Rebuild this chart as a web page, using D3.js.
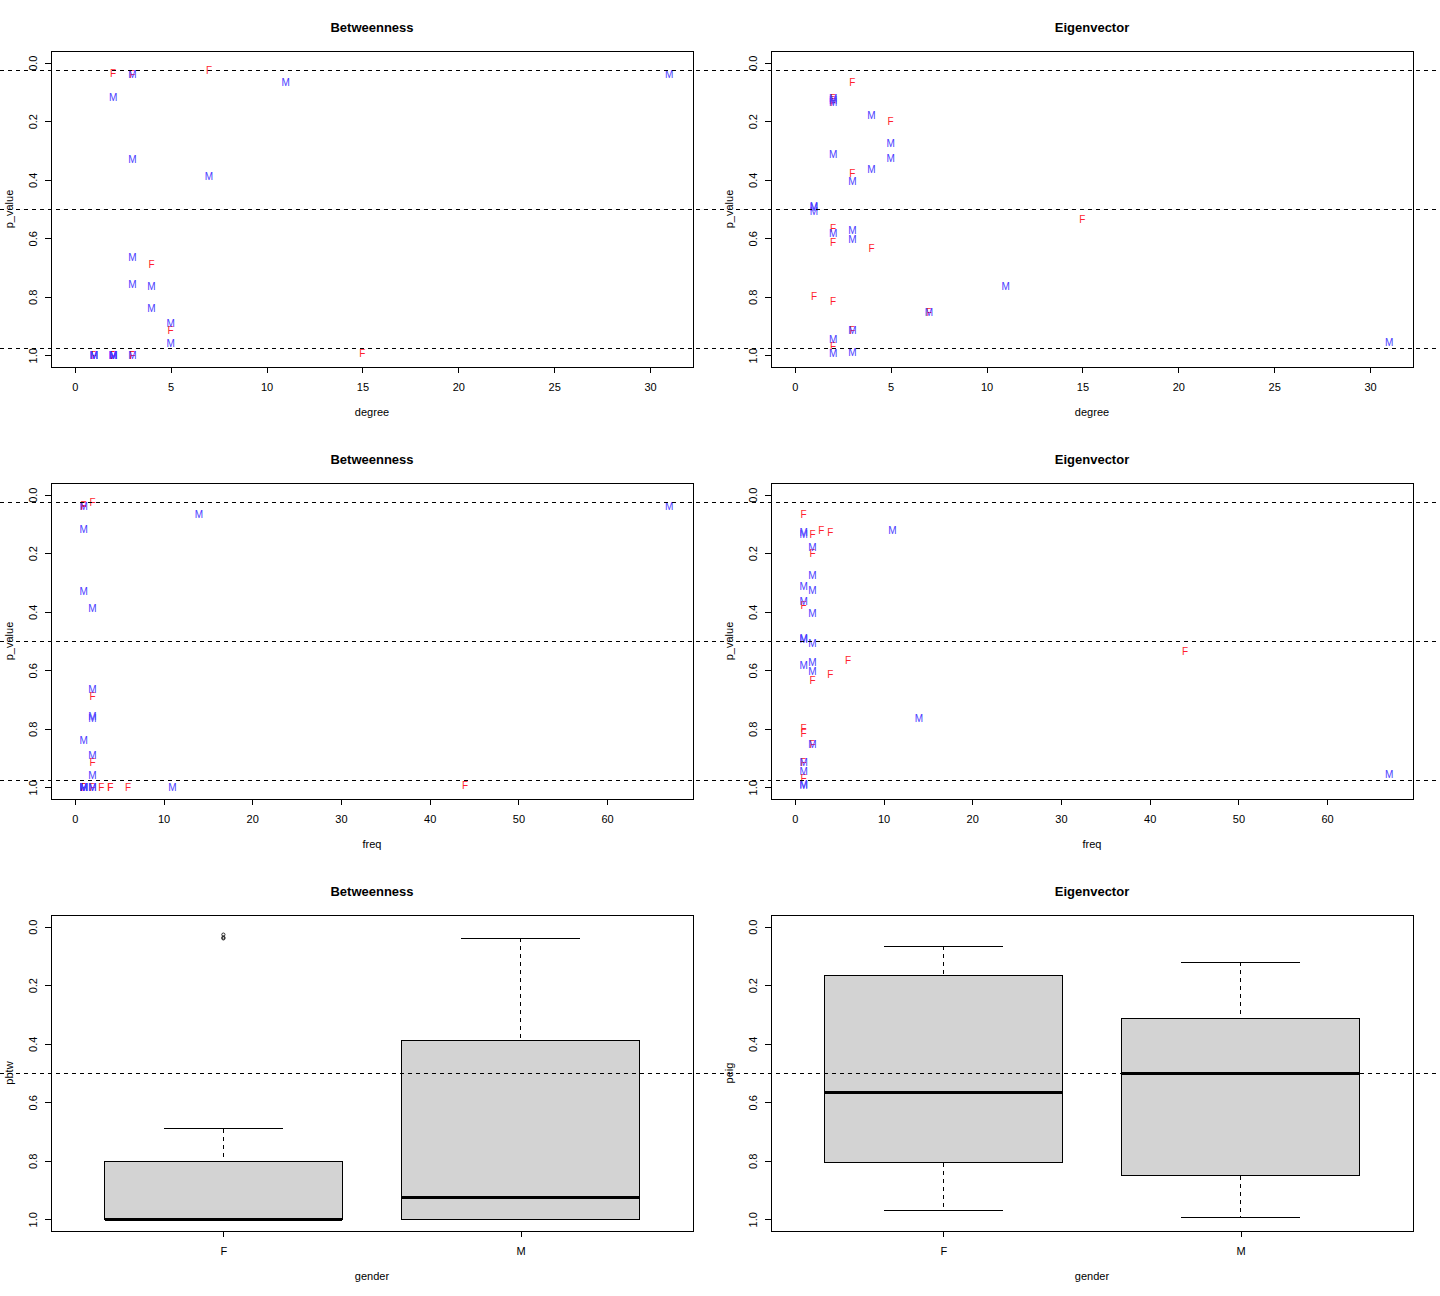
<!DOCTYPE html>
<html>
<head>
<meta charset="utf-8">
<script src="https://cdn.jsdelivr.net/npm/d3@7"></script>
<style>
  html, body { margin: 0; padding: 0; background: #fff; }
  svg { display: block; font-family: "Liberation Sans", Arial, sans-serif; }
  line, rect { shape-rendering: crispEdges; }
</style>
</head>
<body>
<svg id="chart" width="1440" height="1296"></svg>
<script>
// ---- data: one entry per node ----
const gender = ["F","F","F","F","F","F","F","F","F","F","F","F","F","F","F",
                "M","M","M","M","M","M","M","M","M","M","M","M","M","M","M","M","M","M","M","M","M","M"];
const degree = [3,2,7,4,5,15,3,3,2,2,2,2,2,2,1,
                3,11,2,3,7,3,4,3,4,5,5,31,2,2,2,2,1,1,1,3,2,2];
const freq   = [1,1,2,2,2,44,1,1,1,2,3,4,6,4,1,
                1,14,1,1,2,2,2,2,1,2,2,67,1,11,1,1,1,2,1,2,1,1];
const pBtw   = [0.04,0.037,0.027,0.69,0.915,0.993,1,1,1,1,1,1,1,1,1,
                0.04,0.068,0.12,0.33,0.39,0.665,0.765,0.757,0.84,0.89,0.96,0.04,1,1,1,1,1,1,1,1,1,1];
const pEig   = [0.067,0.817,0.852,0.636,0.2,0.534,0.377,0.914,0.969,0.134,0.122,0.13,0.565,0.613,0.797,
                0.989,0.765,0.945,0.914,0.852,0.405,0.18,0.572,0.364,0.276,0.327,0.956,0.134,0.122,0.13,0.314,0.495,0.507,0.49,0.604,0.585,0.994];
const genders = ["F","M"];
const yTicks = [0, 0.2, 0.4, 0.6, 0.8, 1.0];
const refLines = [0.025, 0.5, 0.975];
const degreeTicks = [0, 5, 10, 15, 20, 25, 30];
const freqTicks = [0, 10, 20, 30, 40, 50, 60];
const letterColor = { F: "#ff1f2f", M: "#4a3cff" };

const nodes = gender.map((g, i) => ({ g, deg: degree[i], freq: freq[i], btw: pBtw[i], eig: pEig[i] }));

const svg = d3.select("#chart");
const FIG_W = 720, FIG_H = 432;
const M = { left: 51, right: 27, top: 51, bottom: 65 };

function panel(row, col) {
  const ox = col * FIG_W, oy = row * FIG_H;
  const g = svg.append("g").attr("transform", `translate(${ox},${oy})`);
  return { g, x0: M.left, x1: FIG_W - M.right, y0: M.top, y1: FIG_H - M.bottom };
}

function yScale(p) {
  // R style: range 0..1 extended by 4%, reversed (0 at top)
  return d3.scaleLinear().domain([-0.04, 1.04]).range([p.y0, p.y1]);
}

function drawFrame(p, title, xlab, ylab) {
  p.g.append("rect").attr("x", p.x0 + 0.5).attr("y", p.y0 + 0.5)
    .attr("width", p.x1 - p.x0).attr("height", p.y1 - p.y0)
    .attr("fill", "none").attr("stroke", "#000").attr("stroke-width", 1);
  p.g.append("text").attr("x", (p.x0 + p.x1) / 2).attr("y", 32)
    .attr("text-anchor", "middle").attr("font-weight", "bold").attr("font-size", 13).text(title);
  p.g.append("text").attr("x", (p.x0 + p.x1) / 2).attr("y", 416)
    .attr("text-anchor", "middle").attr("font-size", 11).text(xlab);
  p.g.append("text").attr("transform", `translate(13,${(p.y0 + p.y1) / 2}) rotate(-90)`)
    .attr("text-anchor", "middle").attr("font-size", 11).text(ylab);
}

function drawYAxis(p, y) {
  const ax = p.g.append("g").attr("transform", `translate(${p.x0},0)`)
    .call(d3.axisLeft(y).tickValues(yTicks).tickSize(6).tickFormat(d3.format(".1f")));
  ax.select(".domain").remove();
  ax.selectAll("line").attr("stroke", "#000");
  ax.selectAll("text").attr("x", null).attr("dy", null)
    .attr("transform", "translate(-14,0) rotate(-90)")
    .attr("text-anchor", "middle").attr("font-size", 11).attr("fill", "#000")
    .attr("font-family", "Liberation Sans, Arial, sans-serif");
}

function drawXAxis(p, x, ticks, fmt) {
  const ax = p.g.append("g").attr("transform", `translate(0,${p.y1})`)
    .call(d3.axisBottom(x).tickValues(ticks).tickSize(6).tickPadding(10).tickFormat(fmt || d3.format("d")));
  ax.select(".domain").remove();
  ax.selectAll("line").attr("stroke", "#000");
  ax.selectAll("text").attr("font-size", 11).attr("fill", "#000")
    .attr("font-family", "Liberation Sans, Arial, sans-serif");
}

function drawRefLines(p, y, vals) {
  p.g.selectAll("line.ref").data(vals).join("line").attr("class", "ref")
    .attr("x1", 0).attr("x2", FIG_W)
    .attr("y1", d => Math.round(y(d)) + 0.5).attr("y2", d => Math.round(y(d)) + 0.5)
    .attr("stroke", "#000").attr("stroke-width", 1).attr("stroke-dasharray", "4,4");
}

function scatter(row, col, title, xkey, xmax, xticks, xlab, pkey) {
  const p = panel(row, col);
  const x = d3.scaleLinear().domain([0 - 0.04 * xmax, xmax * 1.04]).range([p.x0, p.x1]);
  const y = yScale(p);
  drawFrame(p, title, xlab, "p_value");
  drawYAxis(p, y);
  drawXAxis(p, x, xticks);
  p.g.append("g").selectAll("text").data(nodes).join("text")
    .attr("x", d => x(d[xkey])).attr("y", d => y(d[pkey]))
    .attr("dy", "0.36em").attr("text-anchor", "middle").attr("font-size", 10)
    .attr("fill", d => letterColor[d.g]).text(d => d.g);
  drawRefLines(p, y, refLines);
}

function fivenum(arr) {
  const v = arr.slice().sort((a, b) => a - b);
  const n = v.length;
  const n4 = Math.floor((n + 3) / 2) / 2;
  const idx = [1, n4, (n + 1) / 2, n + 1 - n4, n];
  return idx.map(i => 0.5 * (v[Math.floor(i) - 1] + v[Math.ceil(i) - 1]));
}

function boxplot(row, col, title, pkey, ylab) {
  const p = panel(row, col);
  const x = d3.scaleLinear().domain([0.42, 2.58]).range([p.x0, p.x1]);
  const y = yScale(p);
  drawFrame(p, title, "gender", ylab);
  drawYAxis(p, y);
  drawXAxis(p, x, [1, 2], (d) => genders[d - 1]);
  genders.forEach((gname, i) => {
    const vals = nodes.filter(d => d.g === gname).map(d => d[pkey]);
    const s = fivenum(vals);
    const iqr = s[3] - s[1];
    const lo = s[1] - 1.5 * iqr, hi = s[3] + 1.5 * iqr;
    const inside = vals.filter(v => v >= lo && v <= hi);
    const wLo = d3.min(inside), wHi = d3.max(inside);
    const out = vals.filter(v => v < lo || v > hi);
    const cx = i + 1;
    const gg = p.g.append("g");
    // whiskers
    gg.append("line").attr("x1", x(cx)).attr("x2", x(cx)).attr("y1", y(wLo)).attr("y2", y(s[1]))
      .attr("stroke", "#000").attr("stroke-dasharray", "4,4");
    gg.append("line").attr("x1", x(cx)).attr("x2", x(cx)).attr("y1", y(s[3])).attr("y2", y(wHi))
      .attr("stroke", "#000").attr("stroke-dasharray", "4,4");
    gg.append("line").attr("x1", x(cx - 0.2)).attr("x2", x(cx + 0.2)).attr("y1", y(wLo)).attr("y2", y(wLo)).attr("stroke", "#000");
    gg.append("line").attr("x1", x(cx - 0.2)).attr("x2", x(cx + 0.2)).attr("y1", y(wHi)).attr("y2", y(wHi)).attr("stroke", "#000");
    // box
    gg.append("rect").attr("x", x(cx - 0.4)).attr("width", x(cx + 0.4) - x(cx - 0.4))
      .attr("y", Math.min(y(s[1]), y(s[3]))).attr("height", Math.abs(y(s[3]) - y(s[1])))
      .attr("fill", "#d3d3d3").attr("stroke", "#000");
    gg.append("line").attr("x1", x(cx - 0.4)).attr("x2", x(cx + 0.4)).attr("y1", y(s[2])).attr("y2", y(s[2]))
      .attr("stroke", "#000").attr("stroke-width", 3);
    gg.selectAll("circle").data(out).join("circle")
      .attr("cx", x(cx)).attr("cy", d => y(d)).attr("r", 1.6)
      .attr("fill", "none").attr("stroke", "#000").attr("stroke-width", 0.8);
  });
  drawRefLines(p, y, [0.5]);
}

scatter(0, 0, "Betweenness", "deg", 31, degreeTicks, "degree", "btw");
scatter(0, 1, "Eigenvector", "deg", 31, degreeTicks, "degree", "eig");
scatter(1, 0, "Betweenness", "freq", 67, freqTicks, "freq", "btw");
scatter(1, 1, "Eigenvector", "freq", 67, freqTicks, "freq", "eig");
boxplot(2, 0, "Betweenness", "btw", "pbtw");
boxplot(2, 1, "Eigenvector", "eig", "peig");
</script>
</body>
</html>
